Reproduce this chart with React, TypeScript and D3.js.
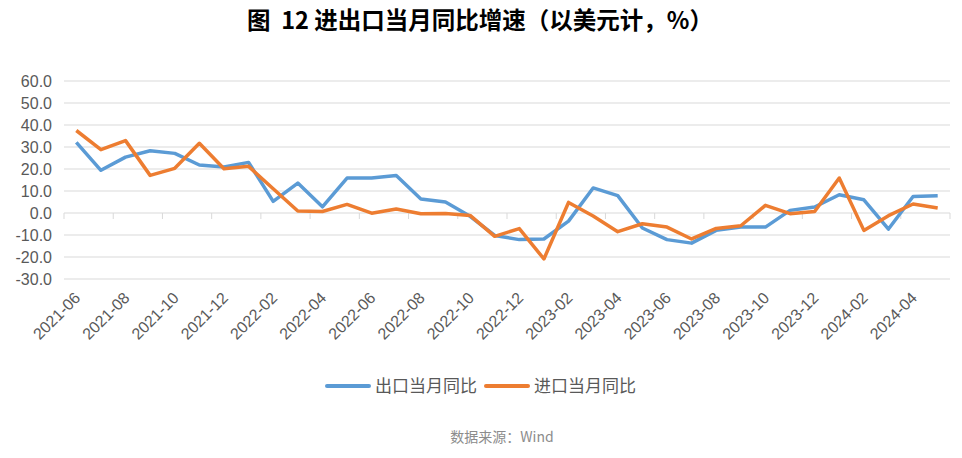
import React from "react";
import * as d3 from "d3";

const width = 962;
const height = 458;
const margin = { top: 81, right: 12, bottom: 179, left: 64 };

const months = [
  "2021-06", "2021-07", "2021-08", "2021-09", "2021-10", "2021-11", "2021-12",
  "2022-01", "2022-02", "2022-03", "2022-04", "2022-05", "2022-06", "2022-07",
  "2022-08", "2022-09", "2022-10", "2022-11", "2022-12", "2023-01", "2023-02",
  "2023-03", "2023-04", "2023-05", "2023-06", "2023-07", "2023-08", "2023-09",
  "2023-10", "2023-11", "2023-12", "2024-01", "2024-02", "2024-03", "2024-04",
  "2024-05",
];

// 出口当月同比
const exportYoY = [
  32.1, 19.4, 25.4, 28.3, 27.1, 21.8, 20.9, 23.0, 5.3, 13.6, 2.8, 15.9,
  15.9, 17.0, 6.4, 5.0, -1.5, -10.2, -12.1, -11.8, -3.7, 11.4, 7.9, -6.8,
  -12.1, -13.7, -7.9, -6.4, -6.4, 1.2, 2.7, 8.3, 6.0, -7.3, 7.5, 7.8,
];

// 进口当月同比
const importYoY = [
  37.5, 28.8, 32.9, 17.1, 20.3, 31.7, 20.1, 21.2, 11.0, 0.9, 0.7, 3.9,
  -0.1, 1.8, -0.3, -0.2, -1.1, -10.6, -7.1, -20.9, 4.8, -1.4, -8.5, -4.9,
  -6.4, -11.8, -7.0, -5.8, 3.5, -0.3, 0.7, 15.9, -7.9, -1.2, 4.1, 2.3,
];

const yTicks = [60, 50, 40, 30, 20, 10, 0, -10, -20, -30];

const series = [
  { name: "出口当月同比", values: exportYoY, color: "#5B9BD5" },
  { name: "进口当月同比", values: importYoY, color: "#ED7D31" },
];

const font = "'Liberation Sans', Arial, 'Noto Sans CJK SC', sans-serif";
const cjk = "'Noto Sans CJK SC', sans-serif";

export default function App() {
  const x = d3
    .scaleBand<string>()
    .domain(months)
    .range([margin.left, width - margin.right]);

  const y = d3
    .scaleLinear()
    .domain([-30, 60])
    .range([height - margin.bottom, margin.top]);

  const line = d3
    .line<number>()
    .x((_, i) => x(months[i])! + x.bandwidth() / 2)
    .y((d) => y(d));

  // tick marks at band boundaries every two months
  const tickPos = months
    .filter((_, i) => i % 2 === 0)
    .map((m) => x(m)!)
    .concat([x.range()[1]]);

  return (
    <svg
      width={width}
      height={height}
      style={{ position: "absolute", left: 0, top: 0, background: "#fff" }}
      fontFamily={font}
    >
      <text
        x={480}
        y={29}
        textAnchor="middle"
        fontSize={23.5}
        fontWeight="bold"
        fill="#000"
        fontFamily={cjk}
        style={{ whiteSpace: "pre" }}
      >
        {"图  12 进出口当月同比增速（以美元计，%）"}
      </text>

      {yTicks.map((t) => (
        <g key={t}>
          <line
            x1={margin.left}
            x2={width - margin.right}
            y1={y(t)}
            y2={y(t)}
            stroke="#d9d9d9"
            strokeWidth={1}
          />
          <text
            x={52}
            y={y(t)}
            dy="0.36em"
            textAnchor="end"
            fontSize={16}
            fill="#595959"
          >
            {t.toFixed(1)}
          </text>
        </g>
      ))}

      {tickPos.map((p, i) => (
        <line
          key={i}
          x1={p}
          x2={p}
          y1={y(0)}
          y2={y(0) + 6}
          stroke="#d9d9d9"
          strokeWidth={1}
        />
      ))}

      {months
        .filter((_, i) => i % 2 === 0)
        .map((m) => {
          const cx = x(m)! + x.bandwidth() / 2 + 5;
          const cy = 299;
          return (
            <text
              key={m}
              transform={`translate(${cx},${cy}) rotate(-45)`}
              textAnchor="end"
              fontSize={16}
              fill="#595959"
            >
              {m}
            </text>
          );
        })}

      {series.map((s) => (
        <path
          key={s.name}
          d={line(s.values)!}
          fill="none"
          stroke={s.color}
          strokeWidth={3.5}
          strokeLinejoin="round"
        />
      ))}

      {series.map((s, i) => {
        const lx = 327 + i * 159;
        return (
          <g key={s.name}>
            <line
              x1={lx}
              x2={lx + 42}
              y1={386}
              y2={386}
              stroke={s.color}
              strokeWidth={4}
              strokeLinecap="round"
            />
            <text
              x={lx + 48}
              y={386}
              dy="0.36em"
              fontSize={17}
              fill="#595959"
              fontFamily={cjk}
            >
              {s.name}
            </text>
          </g>
        );
      })}

      <text
        x={502}
        y={437}
        dy="0.36em"
        textAnchor="middle"
        fontSize={14}
        fill="#8c8c8c"
        fontFamily={cjk}
      >
        数据来源：Wind
      </text>
    </svg>
  );
}
